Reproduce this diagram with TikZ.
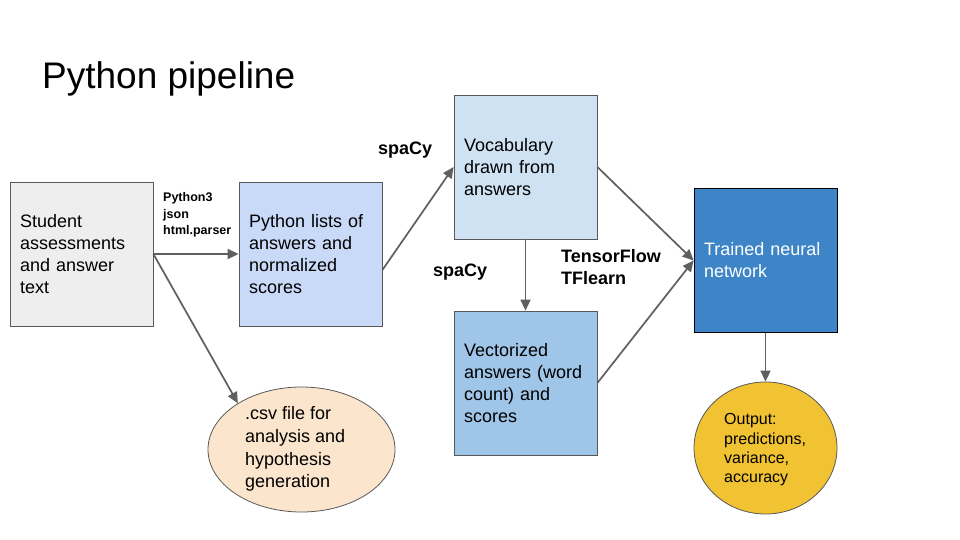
\documentclass[tikz,border=0pt]{standalone}
\usepackage{fontspec}
\setmainfont{Liberation Sans}
\usetikzlibrary{arrows.meta,shapes.geometric}
\definecolor{linegray}{HTML}{595959}
\definecolor{arrowgray}{HTML}{5F5F5F}
\definecolor{fstudent}{HTML}{EEEEEE}
\definecolor{flists}{HTML}{C9DAF8}
\definecolor{fvocab}{HTML}{CFE2F3}
\definecolor{fvect}{HTML}{9FC5E8}
\definecolor{ftrained}{HTML}{3D85C6}
\definecolor{fcsv}{HTML}{FCE5CD}
\definecolor{foutput}{HTML}{F1C232}
\tikzset{
  box/.style={draw=linegray, line width=0.8pt, minimum width=143pt, minimum height=144pt,
    inner sep=0pt, text width=123pt, align=left, font=\fontsize{18}{22}\selectfont},
  oval/.style={ellipse, draw=linegray, line width=0.8pt, inner sep=0pt},
  ovaltext/.style={inner sep=0pt, align=left, anchor=west},
  arr/.style={draw=arrowgray, line width=1.7pt, -{Triangle[length=11pt,width=10pt]}},
  lab/.style={font=\bfseries\fontsize{18}{22}\selectfont, inner sep=0pt, anchor=west, align=left},
  smalllab/.style={font=\bfseries\fontsize{12.5}{16.5}\selectfont, inner sep=0pt, anchor=west, align=left}
}
\begin{document}
\begin{tikzpicture}[x=1pt,y=-1pt]
\useasboundingbox[fill=white] (0,0) rectangle (960,540);
\node[inner sep=0pt, anchor=west, font=\fontsize{37}{42}\selectfont] (title) at (42,79) {Python pipeline};

\node[box, fill=fstudent] (student) at (81.5,254) {Student\\assessments\\and answer\\text};
\node[box, fill=flists] (lists) at (310.5,254) {Python lists of\\answers and\\normalized\\scores};
\node[box, fill=fvocab] (vocab) at (525.5,167) {Vocabulary\\drawn from\\answers};
\node[box, fill=fvect] (vect) at (525.5,383) {Vectorized\\answers (word\\count) and\\scores};
\node[box, fill=ftrained, draw=black, text=white] (trained) at (765.5,260.5) {Trained neural\\network};

\node[oval, fill=fcsv, minimum width=187pt, minimum height=125pt] (csv) at (301.5,449.5) {};
\node[ovaltext, font=\fontsize{18}{22.7}\selectfont] (csvtext) at (245,449) {.csv file for\\analysis and\\hypothesis\\generation};
\node[oval, fill=foutput, minimum width=143pt, minimum height=132pt] (output) at (765.5,448) {};
\node[ovaltext, font=\fontsize{16}{19.3}\selectfont] (outtext) at (724,450) {Output:\\predictions,\\variance,\\accuracy};

\node[smalllab] (py3) at (163,215) {Python3\\json\\html.parser};
\node[lab] (spacy1) at (378,150) {spaCy};
\node[lab] (spacy2) at (433,272) {spaCy};
\node[lab] (tf) at (561,267) {TensorFlow\\TFlearn};

\draw[arr] (student.east) -- (lists.west);
\draw[arr] (student.east) -- (csv.144);
\draw[arr] ([yshift=-16pt]lists.east) -- (vocab.west);
\draw[arr] (vocab.south) -- (vect.north);
\draw[arr] (vocab.east) -- (trained.west);
\draw[arr] (vect.east) -- (trained.west);
\draw[arr] (trained.south) -- (output.north);
\end{tikzpicture}
\end{document}
